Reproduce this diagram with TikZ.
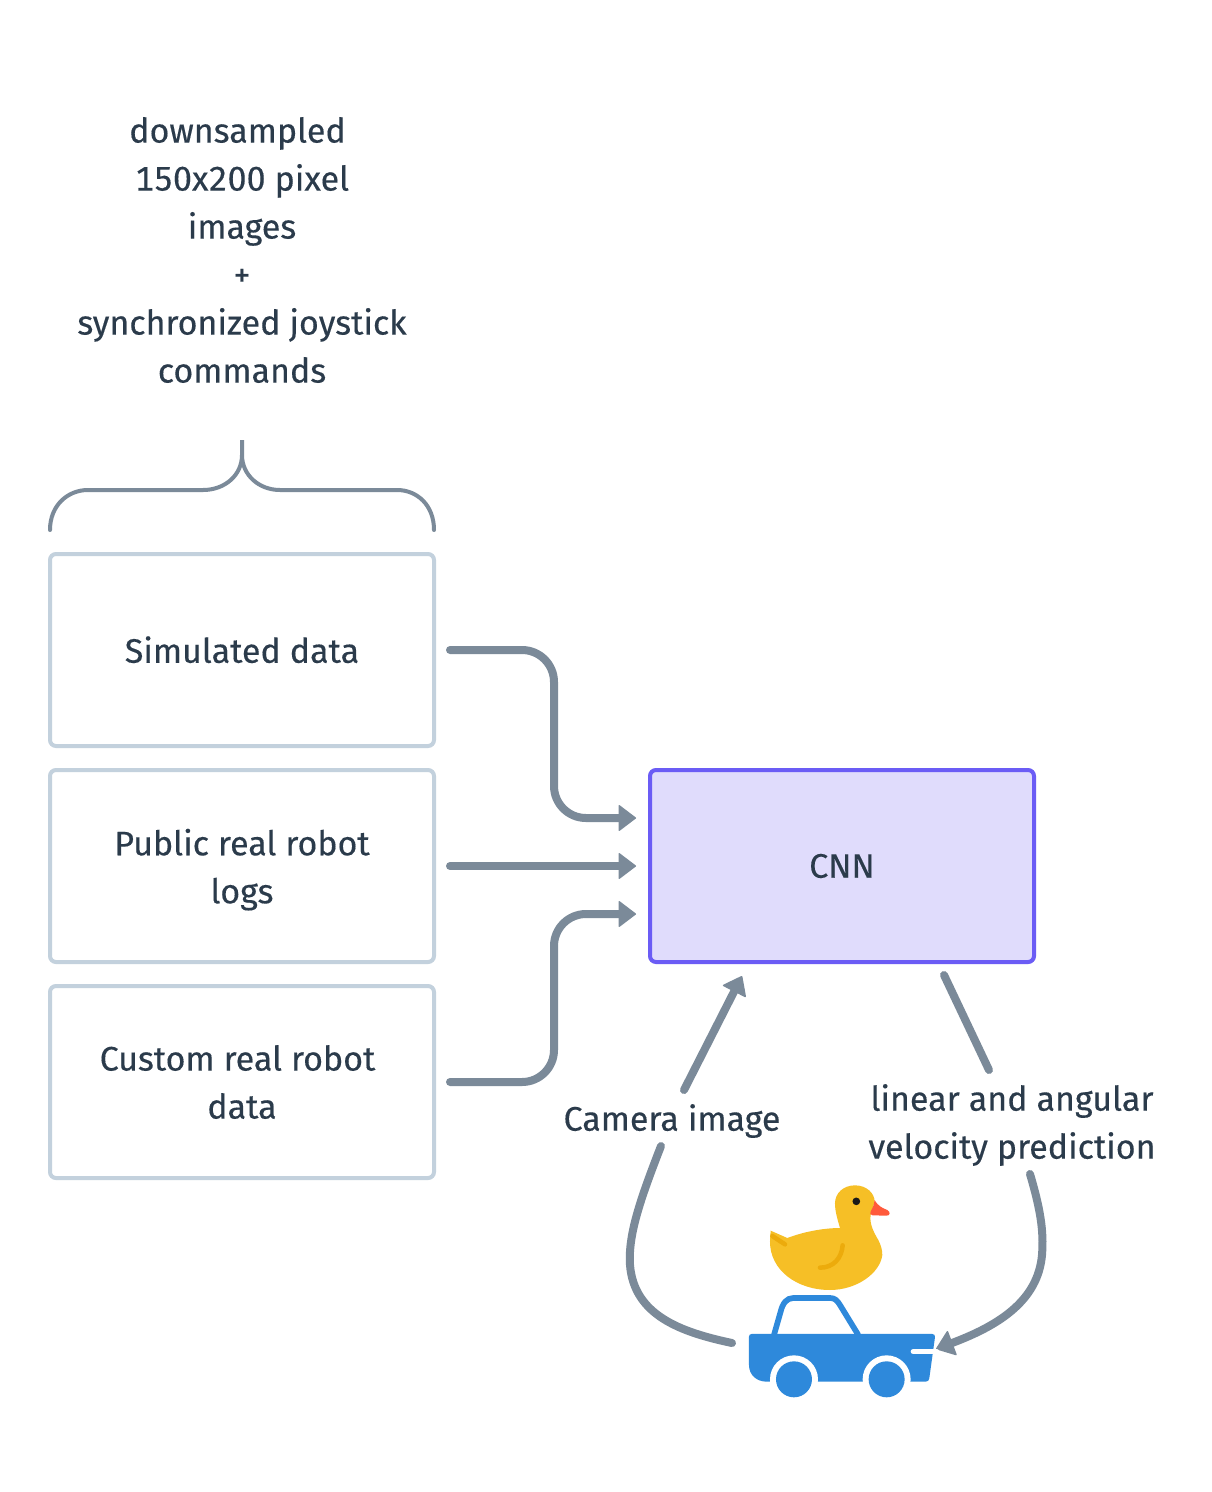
\documentclass[tikz,border=0pt]{standalone}
\usepackage{fontspec}
\setmainfont[Numbers=Monospaced,UprightFeatures={FakeBold=0.3}]{Fira Sans}
\usetikzlibrary{arrows.meta,calc}
\definecolor{inkc}{HTML}{2B3B4B}
\definecolor{linec}{HTML}{7B8A99}
\definecolor{boxc}{HTML}{C3D1DD}
\definecolor{cnnc}{HTML}{6B5CF5}
\definecolor{cnnf}{HTML}{E0DCFC}
\definecolor{carc}{HTML}{2E89DB}
\definecolor{duckc}{HTML}{F6BF26}
\definecolor{wingc}{HTML}{ECAB0C}
\definecolor{beakc}{HTML}{FF5A3C}
\begin{document}
\begin{tikzpicture}[
    x=1pt, y=-1pt,
    txt/.style={align=center, text=inkc, font=\fontsize{34}{48}\selectfont},
    srcbox/.style={draw=boxc, line width=4pt, rounded corners=6pt, minimum width=384pt, minimum height=192pt, txt},
    netbox/.style={draw=cnnc, fill=cnnf, line width=4pt, rounded corners=6pt, minimum width=384pt, minimum height=192pt, txt},
    conn/.style={draw=linec, line width=8pt, line cap=round},
    arr/.style={conn, -{Triangle[length=18pt,width=27pt,line width=1.5pt,round]}},
    elbow/.style={arr, rounded corners=32pt, shorten <=14pt, shorten >=12pt}
]
\useasboundingbox (0,0) rectangle (1212,1492);
\fill[white] (0,0) rectangle (1212,1492);

\node[txt] (note) at (242,250) {downsampled\hspace*{9pt}\\150x200 pixel\hspace*{14pt}\\images\\+\\synchronized joystick\\commands};
\node[srcbox] (sim) at (242,650) {\raisebox{1pt}{Simulated data}};
\node[srcbox] (pub) at (242,866) {Public real robot\\\smash{logs}};
\node[srcbox] (cus) at (242,1082) {Custom real robot\hspace*{9pt}\\data};
\node[netbox] (cnn) at (842,866) {CNN};
\node[txt] (cam) at (672,1121) {Camera image};
\node[txt] (vel) at (1012,1125) {linear and angular\\velocity prediction};

\coordinate (camup) at (684,1090);
\coordinate (camin) at (742,976);
\coordinate (velup) at (989,1070);
\coordinate (velout) at (944,975);
\coordinate (camdown) at (661,1146);
\coordinate (carback) at (732,1343);
\coordinate (veldown) at (1030,1174);
\coordinate (carfront) at (936,1349);

\draw[linec, line width=4pt, line cap=round] (50,530) .. controls (50,505) and (68,490) .. (88,490) -- (203,490) .. controls (225,490) and (242,475) .. (242,455) -- (242,440) -- (242,455) .. controls (242,475) and (259,490) .. (280,490) -- (397,490) .. controls (417,490) and (434,505) .. (434,530);

\draw[elbow] (sim.east) -| ($(cnn.west)+(-94,-48)$) -- ($(cnn.west)+(0,-48)$);
\draw[arr, shorten <=14pt, shorten >=12pt] (pub.east) -- (cnn.west);
\draw[elbow] (cus.east) -| ($(cnn.west)+(-94,48)$) -- ($(cnn.west)+(0,48)$);
\draw[arr] (camup) -- (camin);
\draw[conn] (velup) -- (velout);
\draw[conn] (camdown) .. controls (640,1200) and (628,1235) .. (630,1265) .. controls (634,1315) and (680,1332) .. (carback);
\draw[arr] (veldown) .. controls (1040,1208) and (1044,1230) .. (1042,1255) .. controls (1038,1300) and (1000,1325) .. (carfront);

\begin{scope}[shift={(620,1160)}, x=0.3333pt, y=-0.3333pt]
% duck
\fill[duckc] (452,212) -- (502,234) .. controls (560,212) and (620,204) .. (660,204) .. controls (650,170) and (645,150) .. (645,130) .. controls (645,100) and (670,76) .. (705,76) .. controls (740,76) and (764,100) .. (764,125) -- (752,165) .. controls (748,190) and (760,215) .. (775,240) .. controls (783,255) and (787,270) .. (787,285) .. controls (780,340) and (710,390) .. (630,390) .. controls (530,390) and (450,330) .. (450,245) -- cycle;
\fill[beakc] (764,120) .. controls (775,140) and (790,145) .. (802,150) .. controls (812,155) and (811,167) .. (800,167) -- (758,166) .. controls (750,165) and (749,160) .. (752,155) .. controls (758,145) and (762,135) .. (764,120) -- cycle;
\fill[black!90] (709,124) circle (11.5);
\draw[wingc, line width=4.5pt, line cap=round] (668,256) .. controls (665,295) and (640,323) .. (600,323);
\draw[wingc, line width=4.5pt, line cap=round] (457,228) -- (495,253);
% car
\draw[carc, line width=5.7pt] (462,525) -- (482,455) .. controls (488,430) and (500,414) .. (520,414) -- (630,414) .. controls (645,414) and (652,422) .. (660,435) -- (715,525);
\fill[carc] (395,522) -- (937,522) .. controls (943,522) and (946,526) .. (945,532) -- (928,655) .. controls (927,662) and (923,665) .. (917,665) -- (440,665) .. controls (410,665) and (387,645) .. (387,615) -- (387,530) .. controls (387,525) and (390,522) .. (395,522) -- cycle;
\draw[white, line width=5.3pt, line cap=round] (880,575) -- (950,575);
\fill[white] (522,658) circle (72);
\fill[white] (800,658) circle (72);
\fill[carc] (522,658) circle (54);
\fill[carc] (800,658) circle (54);
\end{scope}
\end{tikzpicture}
\end{document}
